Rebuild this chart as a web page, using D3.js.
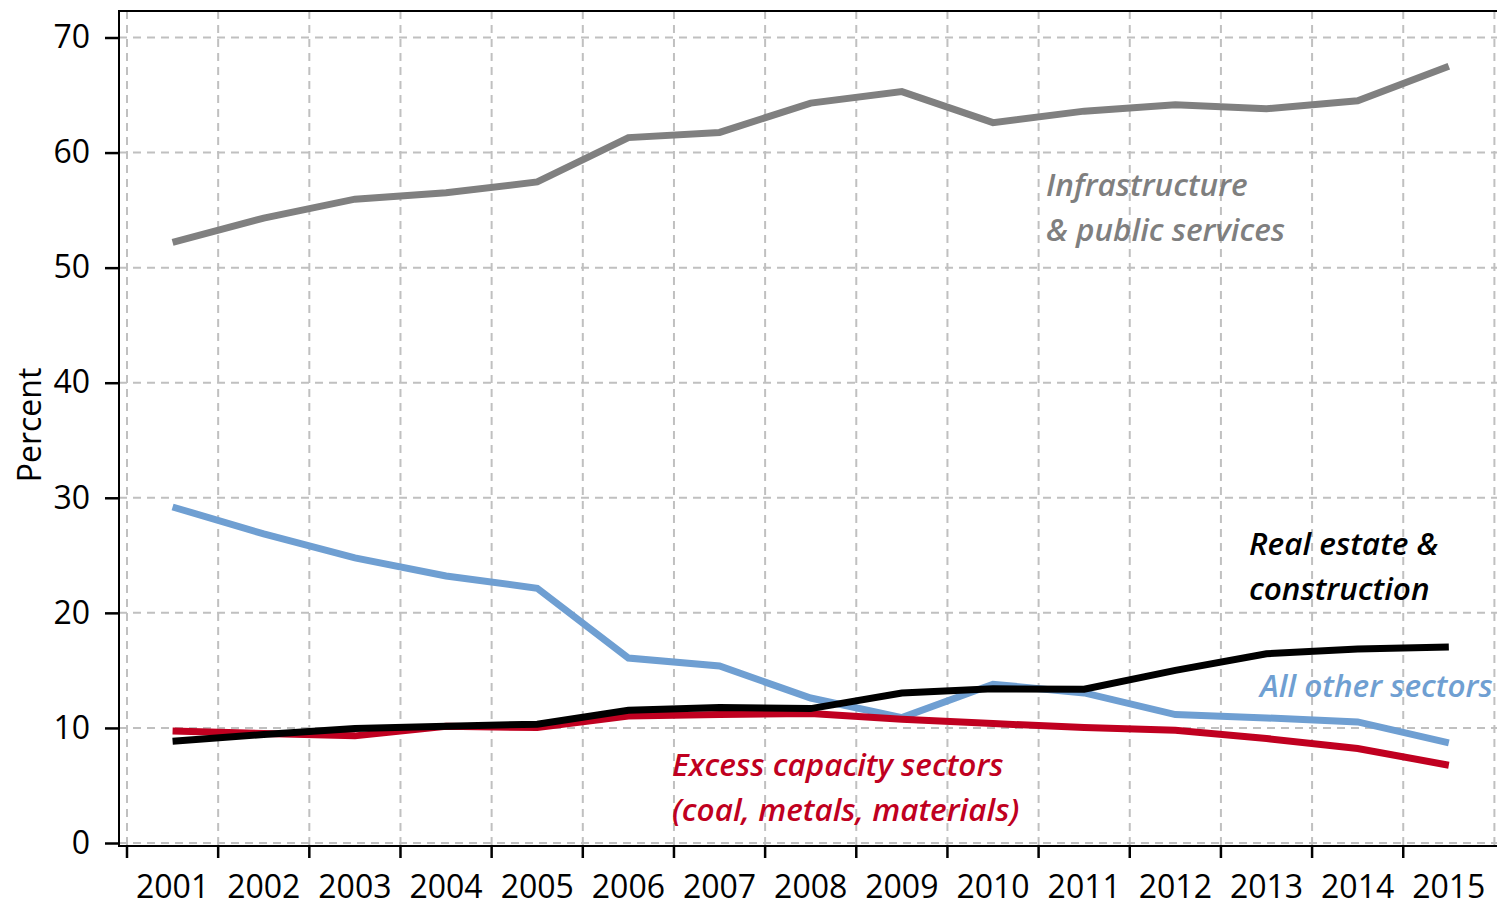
<!DOCTYPE html>
<html>
<head>
<meta charset="utf-8">
<script src="https://cdn.jsdelivr.net/npm/d3@7"></script>
<style>
  body { margin: 0; background: #fff; }
  svg { display: block; font-family: "Open Sans", sans-serif; }
</style>
</head>
<body>
<svg id="chart" width="1497" height="907"></svg>
<script>
const years = ['2001','2002','2003','2004','2005','2006','2007','2008','2009','2010','2011','2012','2013','2014','2015'];
const infrastructure = [52.2, 54.3, 55.95, 56.5, 57.45, 61.3, 61.75, 64.3, 65.3, 62.6, 63.6, 64.15, 63.8, 64.5, 67.5];
const otherSectors   = [29.2, 26.86, 24.78, 23.2, 22.14, 16.07, 15.38, 12.6, 10.9, 13.8, 13.04, 11.16, 10.87, 10.52, 8.7];
const realEstate     = [8.85, 9.43, 9.95, 10.15, 10.32, 11.53, 11.77, 11.68, 13.04, 13.4, 13.36, 15.0, 16.45, 16.85, 17.03];
const excessCapacity = [9.74, 9.51, 9.31, 10.15, 10.03, 11.04, 11.16, 11.25, 10.75, 10.38, 10.03, 9.8, 9.08, 8.21, 6.76];
const yTicks = [0, 10, 20, 30, 40, 50, 60, 70];

const series = [
  { key: 'infra', values: infrastructure, color: '#808080' },
  { key: 'other', values: otherSectors, color: '#6f9fd2' },
  { key: 'excess', values: excessCapacity, color: '#c00020' },
  { key: 'real', values: realEstate, color: '#000000' }
];

const labels = [
  { lines: ['Infrastructure', '& public services'], color: '#7f7f7f', x: 1046, y: 196 },
  { lines: ['Real estate &', 'construction'], color: '#000000', x: 1249, y: 555 },
  { lines: ['All other sectors'], color: '#6f9fd2', x: 1260, y: 697 },
  { lines: ['Excess capacity sectors', '(coal, metals, materials)'], color: '#c00020', x: 672, y: 776 }
];

const svg = d3.select('#chart');
const plotLeft = 119, plotRight = 1497, plotTop = 11, baseY = 846;

const xScale = d3.scaleBand()
  .domain(years)
  .range([127, 127 + 15 * 91.16])
  .padding(0);

const yScale = d3.scaleLinear()
  .domain([0, 70])
  .range([843, 37.5]);

const xCenter = d => xScale(d) + xScale.bandwidth() / 2;
const boundaries = years.map(d => xScale(d)).concat([xScale.range()[1]]);

// grid
const grid = svg.append('g').attr('class', 'grid')
  .attr('stroke', '#c0c0c0')
  .attr('stroke-width', 2)
  .attr('stroke-dasharray', '8,6');
grid.selectAll('.hgrid').data(yTicks).enter().append('line')
  .attr('x1', plotLeft).attr('x2', plotRight)
  .attr('y1', d => yScale(d)).attr('y2', d => yScale(d));
grid.selectAll('.vgrid').data(boundaries).enter().append('line')
  .attr('x1', d => d).attr('x2', d => d)
  .attr('y1', plotTop).attr('y2', baseY);

// lines
const line = d3.line()
  .x((d, i) => xCenter(years[i]))
  .y(d => yScale(d));

svg.append('g').selectAll('path').data(series).enter().append('path')
  .attr('d', d => line(d.values))
  .attr('fill', 'none')
  .attr('stroke', d => d.color)
  .attr('stroke-width', 7)
  .attr('stroke-linejoin', 'miter');

// frame
svg.append('line').attr('x1', plotLeft).attr('x2', plotRight).attr('y1', plotTop).attr('y2', plotTop)
  .attr('stroke', '#000').attr('stroke-width', 2);
svg.append('line').attr('x1', plotLeft).attr('x2', plotLeft).attr('y1', plotTop - 1).attr('y2', baseY + 1)
  .attr('stroke', '#000').attr('stroke-width', 2);
svg.append('line').attr('x1', plotLeft).attr('x2', plotRight).attr('y1', baseY).attr('y2', baseY)
  .attr('stroke', '#000').attr('stroke-width', 2);

// y axis
const yAxis = d3.axisLeft(yScale)
  .tickValues(yTicks)
  .tickSize(14)
  .tickPadding(15);
const yAxisG = svg.append('g')
  .attr('transform', `translate(${plotLeft}, 0)`)
  .call(yAxis);
yAxisG.select('.domain').remove();
yAxisG.selectAll('line').attr('stroke-width', 2.5);
yAxisG.selectAll('text')
  .attr('font-size', 32)
  .attr('font-family', '"Open Sans", sans-serif')
  .attr('fill', '#000');

// x axis: ticks at year boundaries, labels at centres
const xTickG = svg.append('g');
xTickG.selectAll('line').data(boundaries.slice(0, 15)).enter().append('line')
  .attr('x1', d => d).attr('x2', d => d)
  .attr('y1', baseY).attr('y2', baseY + 12)
  .attr('stroke', '#000').attr('stroke-width', 2.5);
xTickG.selectAll('text').data(years).enter().append('text')
  .attr('x', d => xCenter(d))
  .attr('y', 898)
  .attr('text-anchor', 'middle')
  .attr('font-size', 32)
  .text(d => d);

// y label
svg.append('text')
  .attr('transform', 'translate(41, 425) rotate(-90)')
  .attr('text-anchor', 'middle')
  .attr('font-size', 32)
  .text('Percent');

// annotations
labels.forEach(l => {
  const t = svg.append('text')
    .attr('x', l.x).attr('y', l.y)
    .attr('fill', l.color)
    .attr('font-size', 31.5)
    .attr('font-style', 'italic')
    .attr('font-weight', 600);
  l.lines.forEach((s, i) => {
    t.append('tspan').attr('x', l.x).attr('dy', i === 0 ? 0 : 44.5).text(s);
  });
});
</script>
</body>
</html>
